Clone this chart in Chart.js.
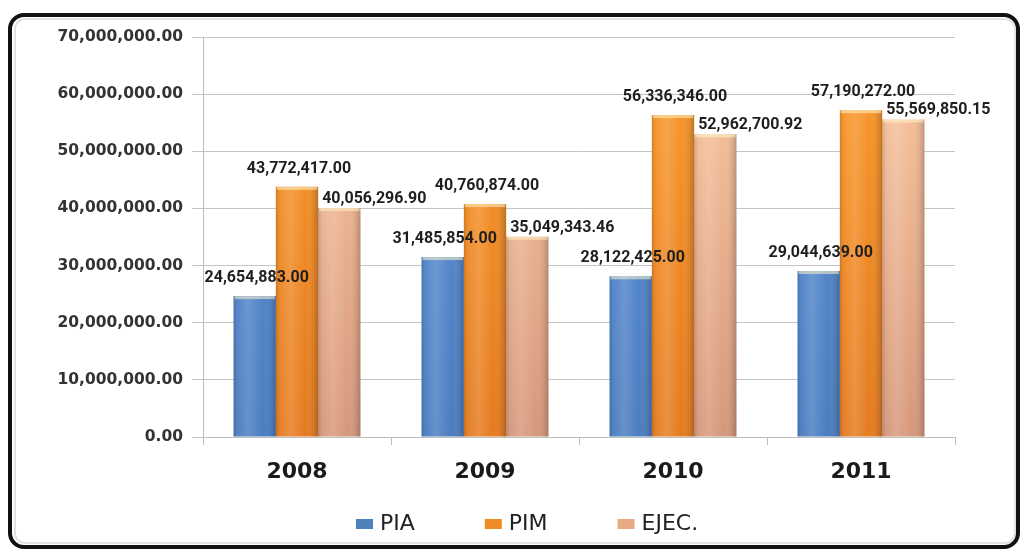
<!DOCTYPE html>
<html>
<head>
<meta charset="utf-8">
<script src="https://cdn.jsdelivr.net/npm/chart.js@4/dist/chart.umd.min.js"></script>
<style>
    html, body { margin: 0; padding: 0; background: #fff; }
    #wrap { width: 1022px; height: 551px; position: relative; }
</style>
</head>
<body>
<div id="wrap"><canvas id="grafico" width="1022" height="551"></canvas></div>
<script>
// Datos del gráfico
const anios = ["2008", "2009", "2010", "2011"];
const valoresPIA = [24654883.00, 31485854.00, 28122425.00, 29044639.00];
const valoresPIM = [43772417.00, 40760874.00, 56336346.00, 57190272.00];
const valoresEJEC = [40056296.90, 35049343.46, 52962700.92, 55569850.15];
const ticksEje = [0, 10000000, 20000000, 30000000, 40000000, 50000000, 60000000, 70000000];

function formatoNumero(v) {
    return v.toLocaleString('en-US', { minimumFractionDigits: 2, maximumFractionDigits: 2 });
}

// Degradado vertical de cada serie
function degradado(arriba, abajo) {
    return function(context) {
        const chart = context.chart;
        const area = chart.chartArea;
        if (!area) return arriba;
        const g = chart.ctx.createLinearGradient(0, area.top, 0, area.bottom);
        g.addColorStop(0, arriba);
        g.addColorStop(1, abajo);
        return g;
    };
}

// Marco negro redondeado y fondo blanco
const marco = {
    id: 'marco',
    beforeDraw(chart) {
        const ctx = chart.ctx;
        ctx.save();
        ctx.fillStyle = '#fff';
        ctx.fillRect(0, 0, chart.width, chart.height);
        ctx.restore();
    },
    afterDraw(chart) {
        const ctx = chart.ctx;
        ctx.save();
        ctx.strokeStyle = '#e2e2e2';
        ctx.lineWidth = 2;
        ctx.beginPath();
        ctx.roundRect(15, 19, 1000, 524, 10);
        ctx.stroke();
        ctx.strokeStyle = '#111';
        ctx.lineWidth = 4;
        ctx.beginPath();
        ctx.roundRect(10, 15, 1008, 532, 14);
        ctx.stroke();
        ctx.restore();
    }
};

// Sombreado tipo cilindro sobre las barras
const sombreado = {
    id: 'sombreado',
    afterDatasetsDraw(chart) {
        const ctx = chart.ctx;
        ctx.save();
        chart.data.datasets.forEach((ds, i) => {
            chart.getDatasetMeta(i).data.forEach(bar => {
                const x0 = bar.x - bar.width / 2;
                const h = bar.base - bar.y;
                const g = ctx.createLinearGradient(x0, 0, x0 + bar.width, 0);
                g.addColorStop(0, 'rgba(0,0,0,0.14)');
                g.addColorStop(0.12, 'rgba(255,255,255,0.06)');
                g.addColorStop(0.35, 'rgba(255,255,255,0.16)');
                g.addColorStop(0.7, 'rgba(255,255,255,0.0)');
                g.addColorStop(1, 'rgba(0,0,0,0.22)');
                ctx.fillStyle = g;
                ctx.fillRect(x0, bar.y, bar.width, h);
                // tapa superior
                ctx.fillStyle = 'rgba(255,245,200,0.55)';
                ctx.fillRect(x0 + 1, bar.y, bar.width - 2, 3);
            });
        });
        ctx.restore();
    }
};

// Etiquetas de valores sobre cada barra
const etiquetas = {
    id: 'etiquetas',
    afterDatasetsDraw(chart) {
        const ctx = chart.ctx;
        ctx.save();
        ctx.font = 'bold 16px Roboto, "DejaVu Sans Condensed", sans-serif';
        ctx.fillStyle = '#1e1e1e';
        ctx.textBaseline = 'middle';
        chart.data.datasets.forEach((ds, i) => {
            chart.getDatasetMeta(i).data.forEach((bar, j) => {
                const texto = formatoNumero(ds.data[j]);
                if (i === 2) {
                    ctx.textAlign = 'left';
                    ctx.fillText(texto, bar.x - bar.width / 2 + 4, bar.y - 9);
                } else {
                    ctx.textAlign = 'center';
                    ctx.fillText(texto, bar.x + 2, bar.y - 18);
                }
            });
        });
        ctx.restore();
    }
};

// Leyenda inferior dibujada a mano
const leyenda = {
    id: 'leyenda',
    afterDraw(chart) {
        const ctx = chart.ctx;
        const colores = ['#4f81bd', '#f08a24', '#e8aa84'];
        ctx.save();
        ctx.font = '22px "DejaVu Sans", sans-serif';
        ctx.textBaseline = 'middle';
        ctx.textAlign = 'left';
        let x = 356;
        const y = 524;
        chart.data.datasets.forEach((ds, i) => {
            ctx.fillStyle = colores[i];
            ctx.fillRect(x, y - 5, 17, 10);
            ctx.fillStyle = '#222';
            ctx.fillText(ds.label, x + 24, y);
            x += 24 + ctx.measureText(ds.label).width + 70;
        });
        ctx.restore();
    }
};

new Chart(document.getElementById('grafico').getContext('2d'), {
    type: 'bar',
    data: {
        labels: anios,
        datasets: [
            { label: 'PIA', data: valoresPIA, backgroundColor: degradado('#5a8fd8', '#4a7cc0') },
            { label: 'PIM', data: valoresPIM, backgroundColor: degradado('#fb9a2a', '#e57a1e') },
            { label: 'EJEC.', data: valoresEJEC, backgroundColor: degradado('#fcc8a0', '#d6977a') }
        ]
    },
    options: {
        responsive: false,
        animation: false,
        categoryPercentage: 0.675,
        barPercentage: 1,
        layout: { padding: { top: 37, right: 67, bottom: 48, left: 0 } },
        plugins: {
            legend: { display: false },
            tooltip: { enabled: false }
        },
        scales: {
            x: {
                grid: { drawOnChartArea: false, drawTicks: true, tickLength: 8, color: '#bdbdbd' },
                border: { color: '#bdbdbd' },
                ticks: {
                    padding: 14,
                    color: '#1a1a1a',
                    font: { family: '"DejaVu Sans", sans-serif', size: 22, weight: 'bold' }
                },
                afterFit(scale) { scale.height = 66; }
            },
            y: {
                min: 0,
                max: 70000000,
                afterBuildTicks(scale) { scale.ticks = ticksEje.map(v => ({ value: v })); },
                grid: { color: '#c4c4c4', tickLength: 11 },
                border: { color: '#bdbdbd' },
                ticks: {
                    padding: 9,
                    color: '#333',
                    font: { family: '"DejaVu Sans", sans-serif', size: 15.5, weight: 'bold' },
                    callback: function(value) { return formatoNumero(value); }
                },
                afterFit(scale) { scale.width = 203; }
            }
        }
    },
    plugins: [marco, sombreado, etiquetas, leyenda]
});
</script>
</body>
</html>
